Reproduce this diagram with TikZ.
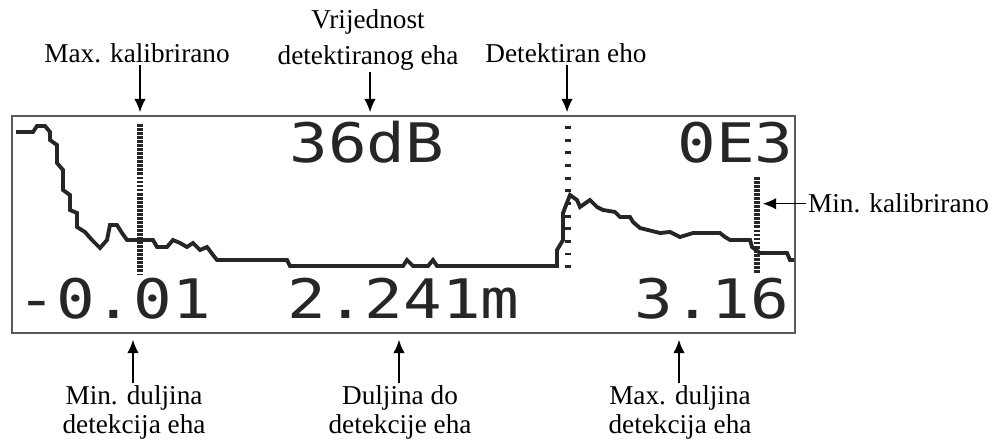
\documentclass[tikz,border=0pt]{standalone}
\usepackage{fontspec}
\setmainfont{Liberation Serif}
\newfontfamily\lcdfont[FakeStretch=1.18]{DejaVu Sans Mono}
\usetikzlibrary{arrows.meta}

\begin{document}
\begin{tikzpicture}[x=0.02cm,y=-0.02cm,
  label/.style={inner sep=1pt,font=\fontsize{15.5}{20.5}\selectfont,align=center},
  pointer/.style={-{Latex[length=7.5pt,width=6.5pt]},line width=0.6pt},
  lcdtext/.style={anchor=base west,inner sep=0pt,text=black!85,font=\lcdfont\fontsize{31}{31}\selectfont},
  marker/.style={line width=3.4pt,black!85,dash pattern=on 1.6pt off 0.7pt},
  echo/.style={line width=2.2pt,black!85,line join=miter}]
\useasboundingbox (0,0) rectangle (990,442);

% display frame
\draw[line width=1.3pt,black!65] (12,116) rectangle (795,333);

\begin{scope}
\clip (13,117) rectangle (794,332);
\node[lcdtext] (gain) at (289,163) {36dB};
\node[lcdtext] (code) at (677,163) {0E3};
\node[lcdtext] (minval) at (17,318) {-0.01};
\node[lcdtext] (dist) at (287,318) {2.241m};
\node[lcdtext] (maxval) at (634,318) {3.16};

% echo curve
\draw[echo] (16,132) -- (33,132) -- (37,126) -- (45,126) -- (50,132) -- (50,140)
  -- (57,145) -- (57,163) -- (63,170) -- (63,190) -- (70,195) -- (70,210)
  -- (77,213) -- (77,227) -- (85,232) -- (92,240) -- (100,248) -- (107,240)
  -- (110,225) -- (117,225) -- (122,233) -- (127,240) -- (153,240) -- (157,247)
  -- (167,247) -- (173,240) -- (180,243) -- (187,247) -- (193,243) -- (200,250)
  -- (207,247) -- (213,255) -- (217,260) -- (287,260) -- (290,266) -- (403,266)
  -- (407,260) -- (413,266) -- (428,266) -- (433,260) -- (437,266) -- (557,266)
  -- (557,250) -- (563,240) -- (563,213) -- (570,195) -- (577,200) -- (580,207)
  -- (590,200) -- (597,207) -- (603,210) -- (615,212) -- (620,217) -- (630,217)
  -- (633,222) -- (640,228) -- (660,233) -- (670,232) -- (680,237) -- (693,233)
  -- (720,233) -- (725,237) -- (730,240) -- (750,240) -- (752,247) -- (760,253)
  -- (787,253) -- (790,260) -- (795,260);

% markers
\draw[marker] (140,124) -- (140,275);
\draw[marker,dash pattern=on 1.7pt off 5.5pt] (568,126) -- (568,268);
\draw[marker] (757,177) -- (757,273);
\end{scope}

% labels above
\node[label,anchor=base] (maxkal) at (137,63) {Max. kalibrirano};
\node[label,anchor=north] (vrij) at (368,7) {Vrijednost\\detektiranog eha};
\node[label,anchor=base] (detecho) at (566,63) {Detektiran eho};
\node[label,anchor=base west] (minkal) at (806,213) {Min. kalibrirano};

% labels below
\node[label,anchor=north,font=\fontsize{15.5}{17}\selectfont] (minlen) at (134,383) {Min. duljina\\detekcija eha};
\node[label,anchor=north,font=\fontsize{15.5}{17}\selectfont] (dolen) at (400,383) {Duljina do\\detekcije eha};
\node[label,anchor=north,font=\fontsize{15.5}{17}\selectfont] (maxlen) at (680,383) {Max. duljina\\detekcija eha};

\coordinate (mktip) at (140,112);
\coordinate (vrtip) at (370,112);
\coordinate (detip) at (567,112);
\coordinate (mintip) at (763,0);
\coordinate (minlentip) at (133,340);
\coordinate (dolentip) at (399,340);
\coordinate (maxlentip) at (679,340);

\draw[pointer] (maxkal.south -| mktip) -- (mktip);
\draw[pointer] (vrij.south -| vrtip) -- (vrtip);
\draw[pointer] (detecho.south -| detip) -- (detip);
\draw[pointer] (minkal.west) -- (minkal.west -| mintip);
\draw[pointer] (minlen.north -| minlentip) -- (minlentip);
\draw[pointer] (dolen.north -| dolentip) -- (dolentip);
\draw[pointer] (maxlen.north -| maxlentip) -- (maxlentip);
\end{tikzpicture}
\end{document}
